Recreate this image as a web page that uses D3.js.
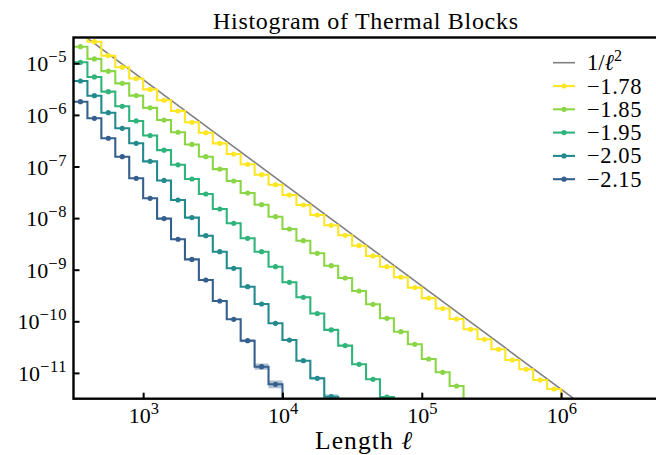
<!DOCTYPE html>
<html><head><meta charset="utf-8">
<script src="https://cdn.jsdelivr.net/npm/d3@7"></script>
<style>
body{margin:0;background:#fff}
text{font-family:"Liberation Serif","DejaVu Serif",serif;fill:#000}
</style>
</head><body><svg id="c" width="656" height="455"></svg>
<script>
// ---- data ----
// left edges of the logarithmic length bins, as log10(ℓ); 10 bins per decade
const binEdgesLog10 = [2.5,2.6,2.7,2.8,2.9,3.0,3.1,3.2,3.3,3.4,3.5,3.6,3.7,3.8,3.9,4.0,4.1,4.2,4.3,4.4,4.5,4.6,4.7,4.8,4.9,5.0,5.1,5.2,5.3,5.4,5.5,5.6,5.7,5.8,5.9,6.0,6.1];
const seriesLabels = ["\u22121.78","\u22121.85","\u22121.95","\u22122.05","\u22122.15"];
// histogram density per bin, log10 values
const dens178 = [-4.40,-4.581,-4.853,-5.076,-5.296,-5.506,-5.716,-5.924,-6.143,-6.346,-6.551,-6.758,-6.957,-7.159,-7.353,-7.552,-7.746,-7.940,-8.140,-8.333,-8.535,-8.734,-8.942,-9.145,-9.347,-9.550,-9.752,-9.955,-10.155,-10.349,-10.543,-10.750,-10.930,-11.138,-11.312,-11.53];
const dens185 = [-4.678,-4.915,-5.152,-5.389,-5.626,-5.863,-6.100,-6.336,-6.573,-6.810,-7.050,-7.281,-7.514,-7.740,-7.973,-8.211,-8.438,-8.682,-8.922,-9.161,-9.413,-9.671,-9.942,-10.202,-10.446,-10.731,-10.988,-11.254,-11.55];
const dens195 = [-4.981,-5.265,-5.549,-5.833,-6.117,-6.400,-6.683,-6.967,-7.242,-7.533,-7.824,-8.101,-8.391,-8.651,-8.942,-9.244,-9.535,-9.850,-10.167,-10.471,-10.833,-11.124,-11.47,-11.7];
const dens205 = [-5.343,-5.628,-5.957,-6.260,-6.550,-6.900,-7.270,-7.649,-7.990,-8.341,-8.651,-8.973,-9.329,-9.665,-10.039,-10.363,-10.764,-11.105,-11.461,-11.7];
const dens215 = [-5.744,-6.066,-6.453,-6.810,-7.229,-7.616,-8.010,-8.410,-8.800,-9.200,-9.607,-9.961,-10.376,-10.880,-11.221,-11.8];
// error half-widths (log10 decades) per bin
const err178 = [];
const err185 = [];
const err195 = [0,0,0,0,0,0,0,0,0,0,0,0,0,0,0,0,0,0,0,0,0,0.015,0.02];
const err205 = [0,0,0,0,0,0,0,0,0,0,0,0,0,0,0,0,0,0.03,0.045];
const err215 = [0,0,0,0,0,0,0,0,0,0,0,0,0.03,0.06,0.075];
const seriesColorT = [1.0,0.825,0.65,0.475,0.3];
const refCoef = 4.83;           // 1/ℓ² reference line coefficient
const xTickExp = [3,4,5,6];
const yTickExp = [-5,-6,-7,-8,-9,-10,-11];

const seriesDens = [dens178,dens185,dens195,dens205,dens215];
const seriesErr = [err178,err185,err195,err205,err215];

// ---- layout ----
const svg = d3.select("#c");
const L=73.5, R=658.6, T=37.5, B=398.7;
const x = d3.scaleLog().domain([Math.pow(10,2.5), Math.pow(10,6.7)]).range([L,R]);
const y = d3.scaleLog().domain([Math.pow(10,-11.5), Math.pow(10,-4.5)]).range([B,T]);

svg.append("defs").append("clipPath").attr("id","clip")
  .append("rect").attr("x",L).attr("y",T).attr("width",R-L).attr("height",B-T);
const plot = svg.append("g").attr("clip-path","url(#clip)");

// reference 1/ℓ² line
const refX = [Math.pow(10,2.5), Math.pow(10,6.7)];
plot.append("path")
  .datum(refX)
  .attr("d", d3.line().x(d=>x(d)).y(d=>y(refCoef/(d*d))))
  .attr("fill","none").attr("stroke","#808080").attr("stroke-width",1.6);

seriesDens.forEach((dens,si)=>{
  const col = d3.interpolateViridis(seriesColorT[si]);
  const pts = dens.map((v,i)=>({e:binEdgesLog10[i], v:v, err:(seriesErr[si][i]||0)}));
  const stepPts = pts.concat([{e:binEdgesLog10[dens.length], v:dens[dens.length-1], err:pts[pts.length-1].err}]);
  const band = d3.area().curve(d3.curveStepAfter)
    .x(d=>x(Math.pow(10,d.e)))
    .y0(d=>y(Math.pow(10,d.v-d.err)))
    .y1(d=>y(Math.pow(10,d.v+d.err)));
  plot.append("path").datum(stepPts).attr("d",band)
    .attr("fill",col).attr("fill-opacity",0.4).attr("stroke","none");
  const line = d3.line().curve(d3.curveStepAfter)
    .x(d=>x(Math.pow(10,d.e))).y(d=>y(Math.pow(10,d.v)));
  plot.append("path").datum(stepPts).attr("d",line)
    .attr("fill","none").attr("stroke",col).attr("stroke-width",2.1);
  plot.selectAll(null).data(pts).enter().append("circle")
    .attr("cx",d=>x(Math.pow(10,d.e+0.05)))
    .attr("cy",d=>y(Math.pow(10,d.v)))
    .attr("r",2.6).attr("fill",col);
});

// axes (inward ticks)
const xAxis = d3.axisBottom(x).tickValues(xTickExp.map(e=>Math.pow(10,e))).tickSize(-6).tickFormat("");
const gx = svg.append("g").attr("transform",`translate(0,${B})`).call(xAxis);
gx.select(".domain").remove();
gx.selectAll(".tick line").attr("stroke","#000").attr("stroke-width",2);
const yAxis = d3.axisLeft(y).tickValues(yTickExp.map(e=>Math.pow(10,e))).tickSize(-6).tickFormat("");
const gy = svg.append("g").attr("transform",`translate(${L},0)`).call(yAxis);
gy.select(".domain").remove();
gy.selectAll(".tick line").attr("stroke","#000").attr("stroke-width",2);

// spines
svg.append("rect").attr("x",L).attr("y",T).attr("width",R-L).attr("height",B-T)
  .attr("fill","none").attr("stroke","#000").attr("stroke-width",2.4);

function powLabel(g, exp, px, py, anchor){
  const t = g.append("text").attr("x",px).attr("y",py).attr("text-anchor",anchor).attr("font-size",22);
  t.append("tspan").text("10");
  t.append("tspan").attr("font-size",16.5).attr("dy",-9).attr("letter-spacing",0.6)
    .text(exp<0 ? "\u2212"+(-exp) : String(exp));
}
xTickExp.forEach(e=>powLabel(svg,e,x(Math.pow(10,e))+1,423,"middle"));
yTickExp.forEach(e=>powLabel(svg,e,67,y(Math.pow(10,e))+8,"end"));

// title & axis label
svg.append("text").attr("x",365.5).attr("y",28.5).attr("text-anchor","middle").attr("font-size",24)
  .attr("textLength",305).attr("lengthAdjust","spacing")
  .text("Histogram of Thermal Blocks");
const xl = svg.append("text").attr("x",364).attr("y",449).attr("text-anchor","middle")
  .attr("font-size",25.5).attr("letter-spacing",1.1);
xl.append("tspan").text("Length ");
xl.append("tspan").attr("font-style","italic").text("\u2113");

// legend
const lg = svg.append("g");
const rowY0 = 62.7, rowDy = 23.3;
lg.append("line").attr("x1",553).attr("x2",575).attr("y1",rowY0).attr("y2",rowY0)
  .attr("stroke","#808080").attr("stroke-width",1.6);
const t0 = lg.append("text").attr("x",587).attr("y",rowY0+7.5).attr("font-size",22.5);
t0.append("tspan").text("1/");
t0.append("tspan").attr("font-style","italic").text("\u2113");
t0.append("tspan").attr("font-size",16).attr("dy",-9).text("2");
seriesLabels.forEach((lab,i)=>{
  const yy = rowY0 + rowDy*(i+1);
  const col = d3.interpolateViridis(seriesColorT[i]);
  lg.append("line").attr("x1",553).attr("x2",575).attr("y1",yy).attr("y2",yy)
    .attr("stroke",col).attr("stroke-width",2.1);
  lg.append("circle").attr("cx",564).attr("cy",yy).attr("r",2.6).attr("fill",col);
  lg.append("text").attr("x",587).attr("y",yy+7.5).attr("font-size",22.5)
    .attr("letter-spacing",0.6).text(lab);
});
</script>
</body></html>
